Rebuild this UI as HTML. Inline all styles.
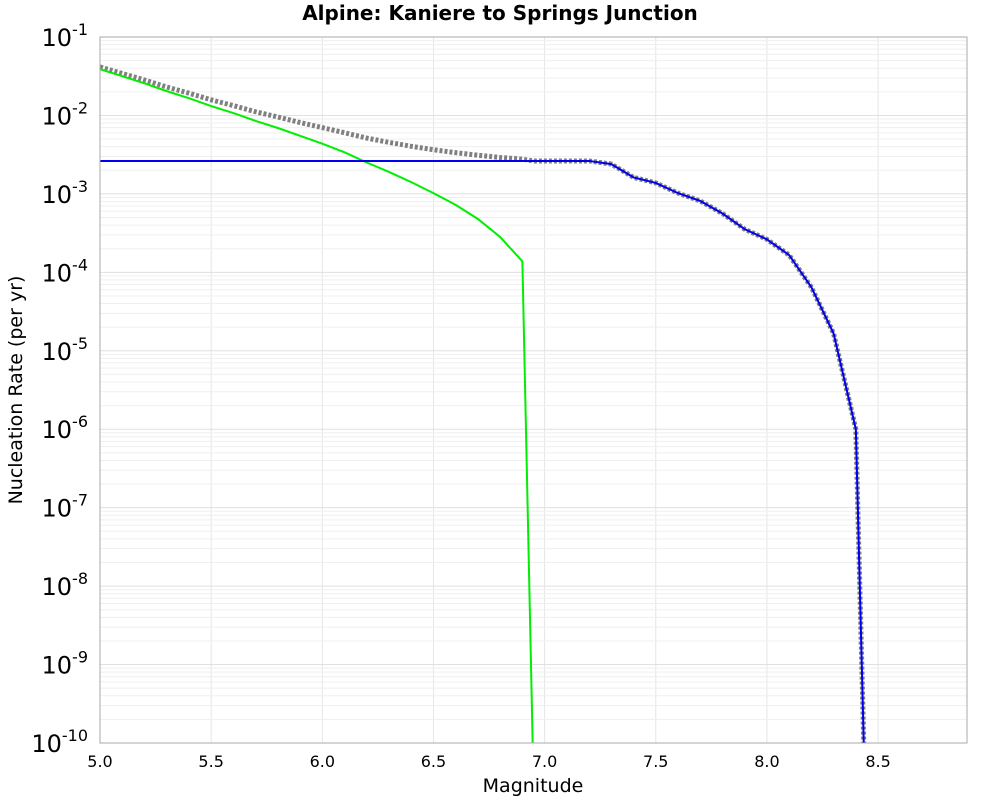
<!DOCTYPE html>
<html><head><meta charset="utf-8"><style>
body{margin:0;background:#fff;font-family:"Liberation Sans","DejaVu Sans",sans-serif}
</style></head><body>
<svg id="chart" width="1000" height="800" xmlns="http://www.w3.org/2000/svg">
<text x="500" y="20" text-anchor="middle" font-family="DejaVu Sans, sans-serif" font-weight="bold" font-size="20">Alpine: Kaniere to Springs Junction</text>
<text x="533" y="792" text-anchor="middle" font-family="DejaVu Sans, sans-serif" font-size="19">Magnitude</text>
<text transform="translate(22,390) rotate(-90)" text-anchor="middle" font-family="DejaVu Sans, sans-serif" font-size="19">Nucleation Rate (per yr)</text>
<defs><clipPath id="clip"><rect x="100" y="37" width="867" height="706"/></clipPath></defs>
<g id="grid"></g>
<g id="series" clip-path="url(#clip)"></g>
<rect x="100" y="37" width="867" height="706" fill="none" stroke="#aaa" stroke-width="1"/>
<g id="ticks"></g>
</svg>
<script>
const xTicks=[5.0,5.5,6.0,6.5,7.0,7.5,8.0,8.5];
const yDecades=[-1,-2,-3,-4,-5,-6,-7,-8,-9,-10];
const greenMags=[5.0,5.1,5.2,5.3,5.4,5.5,5.6,5.7,5.8,5.9,6.0,6.1,6.2,6.3,6.4,6.5,6.6,6.7,6.8,6.9,6.95];
const greenLogRates=[-1.41,-1.50,-1.59,-1.69,-1.78,-1.88,-1.97,-2.07,-2.16,-2.26,-2.36,-2.47,-2.60,-2.72,-2.85,-2.99,-3.14,-3.32,-3.55,-3.86,-10.5];
const blueMags=[5.0,7.2,7.3,7.4,7.5,7.6,7.7,7.8,7.9,8.0,8.1,8.2,8.3,8.4,8.44];
const blueLogRates=[-2.58,-2.58,-2.62,-2.79,-2.86,-2.99,-3.09,-3.25,-3.45,-3.58,-3.78,-4.19,-4.78,-6.0,-10.5];
const NS="http://www.w3.org/2000/svg";
const X0=100,X1=967,Y0=37,Y1=743,XMIN=5,XMAX=8.9,YTOP=-1,YBOT=-10;
const sx=m=>X0+(m-XMIN)/(XMAX-XMIN)*(X1-X0);
const sy=l=>Y0+(YTOP-l)/(YTOP-YBOT)*(Y1-Y0);
function mk(tag,attrs,parent){const e=document.createElementNS(NS,tag);for(const k in attrs)e.setAttribute(k,attrs[k]);parent.appendChild(e);return e;}
const grid=document.getElementById('grid'),ticks=document.getElementById('ticks'),series=document.getElementById('series');
xTicks.forEach(t=>{
  const l=mk('line',{x1:sx(t),x2:sx(t),y1:Y0,y2:Y1,stroke:'#e6e6e6'},grid);
  
  
  const tx=mk('text',{x:sx(t),y:767,'text-anchor':'middle','font-size':'16','font-family':'DejaVu Sans, sans-serif'},ticks);
  tx.textContent=t.toFixed(1);
  
  
});
yDecades.forEach(d=>{
  const l=mk('line',{x1:X0,x2:X1,y1:sy(d),y2:sy(d),stroke:'#e0e0e0'},grid);
  
  
  if(d>YBOT){for(let k=2;k<10;k++){const yy=sy(d-1+Math.log10(k));
    const m=mk('line',{x1:X0,x2:X1,y1:yy,y2:yy,stroke:'#efefef'},grid);
    
    }}
  const tx=mk('text',{x:88,y:sy(d)+9,'text-anchor':'end','font-size':'24','font-family':'DejaVu Sans, sans-serif'},ticks);
  tx.innerHTML='10<tspan dy="-11" font-size="16">'+d+'</tspan>';
  
  
});
function interp(ms,ls,m){if(m<ms[0]||m>ms[ms.length-1])return null;for(let i=0;i<ms.length-1;i++){if(m>=ms[i]&&m<=ms[i+1]){const f=(m-ms[i])/(ms[i+1]-ms[i]);return ls[i]+f*(ls[i+1]-ls[i]);}}return ls[ls.length-1];}
const allM=[...new Set([...greenMags,...blueMags])].sort((a,b)=>a-b);
const totPts=allM.map(m=>{let s=0;const g=interp(greenMags,greenLogRates,m),b=interp(blueMags,blueLogRates,m);if(g!==null)s+=Math.pow(10,g);if(b!==null)s+=Math.pow(10,b);return [m,Math.log10(s)];});
const pts=(ms,ls)=>ms.map((m,i)=>sx(m)+','+sy(ls[i])).join(' ');
const tot=mk('polyline',{points:totPts.map(p=>sx(p[0])+','+sy(p[1])).join(' '),fill:'none',stroke:'#808080','stroke-width':'5','stroke-dasharray':'3,2'},series);


const g=mk('polyline',{points:pts(greenMags,greenLogRates),fill:'none',stroke:'#00ee00','stroke-width':'2'},series);


const b=mk('polyline',{points:pts(blueMags,blueLogRates),fill:'none',stroke:'#0000ee','stroke-width':'2'},series);


</script>
</body></html>
